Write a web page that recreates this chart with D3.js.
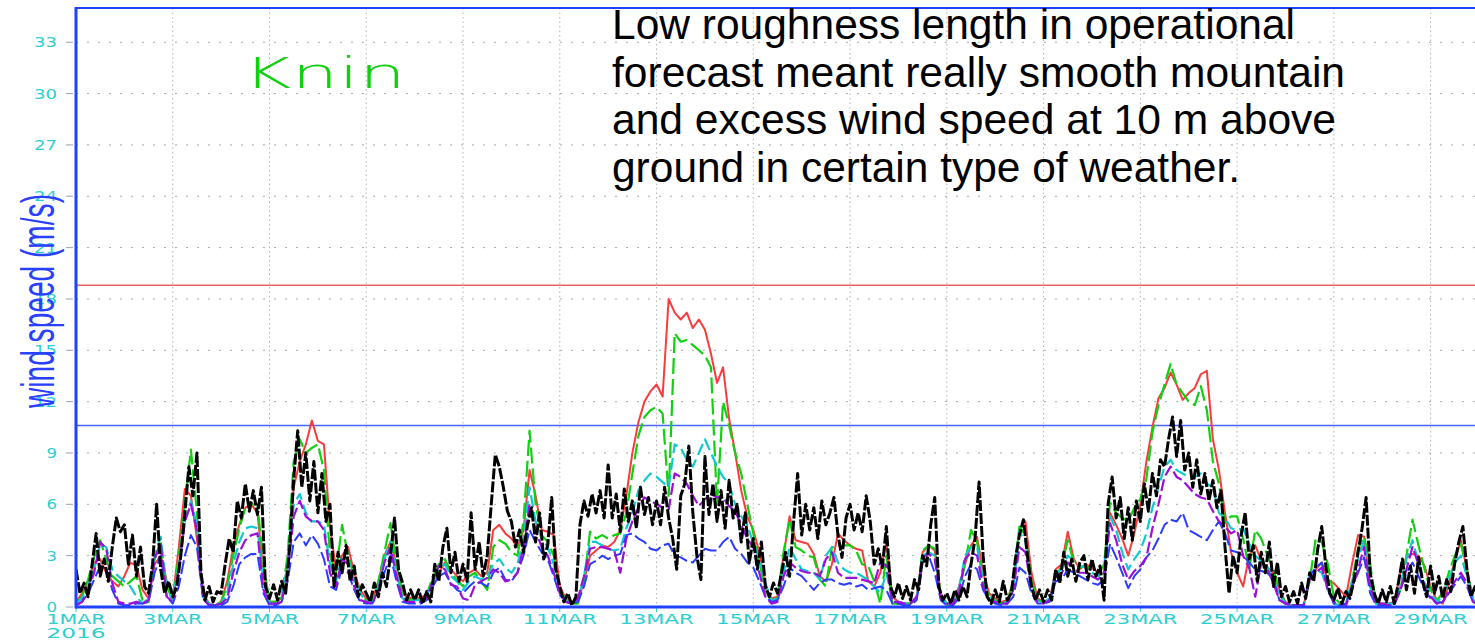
<!DOCTYPE html>
<html>
<head>
<meta charset="utf-8">
<script src="https://cdn.jsdelivr.net/npm/d3@7/dist/d3.min.js"></script>
<style>
  body { margin: 0; background: #fff; overflow: hidden; }
</style>
</head>
<body>
<main></main>
<script>
// model runs, 3-hourly from 1 MAR 2016 00 UTC (8 values a day)
const red = [
  0.3,0.8,1.5,2.6,2.8,2.0,1.5,1.2, 1.8,2.6,2.4,1.0,0.5,2.5,3.0,1.5,
  0.5,3.5,6.9,6.5,4.0,0.8,0.2,0.1, 0.3,1.5,3.5,4.8,5.8,6.0,5.5,2.0,
  0.3,0.3,0.5,2.5,7.0,8.5,9.5,10.9, 9.7,9.5,4.7,2.2,3.0,3.5,2.0,1.0,
  0.5,0.4,1.5,3.0,3.8,2.5,0.8,0.5, 0.6,0.5,0.8,1.5,2.0,2.6,2.2,1.8,
  1.5,2.0,2.2,1.8,2.0,4.5,4.8,4.3, 4.0,3.5,4.5,8.0,6.5,4.5,4.4,4.2,
  1.2,0.5,0.3,0.3,1.5,3.0,3.3,3.6, 3.5,3.8,4.5,6.5,9.0,10.8,12.0,12.6,
  13.0,12.3,18.0,17.2,16.8,17.2,16.3,16.8, 16.2,14.8,13.1,14.0,11.0,9.0,6.8,5.3,
  4.5,3.2,1.2,0.5,0.6,3.0,5.3,3.9, 3.8,3.7,3.1,1.8,1.5,2.5,4.3,3.9,
  3.6,3.4,3.3,1.5,1.2,2.0,3.8,0.6, 0.3,0.2,0.2,0.5,3.2,3.6,3.3,0.8,
  0.2,0.2,1.2,2.5,3.6,4.1,2.0,0.8, 0.5,0.3,0.4,1.5,4.5,5.0,2.0,0.5,
  0.3,0.4,2.2,2.5,4.4,2.8,2.2,2.5, 2.3,2.0,2.4,5.5,4.8,4.0,3.0,4.3,
  6.0,8.5,10.5,12.2,12.8,13.7,13.0,12.1, 12.5,12.8,13.6,13.8,9.8,8.0,5.5,3.2,
  2.0,1.2,3.0,3.6,2.7,2.3,2.0,1.0, 0.3,0.1,0.1,0.1,1.6,2.2,2.6,1.6,
  1.4,1.0,0.6,2.5,4.2,4.1,1.2,0.2, 0.2,0.2,0.3,2.0,2.9,3.1,3.0,2.4,
  1.2,0.4,0.2,1.3,2.7,3.9,2.2,0.4,0.2
];
const green = [
  0.2,0.6,1.6,2.9,3.9,2.8,1.8,1.5, 1.2,1.5,1.8,0.4,0.3,2.8,3.8,1.2,
  0.4,3.0,6.0,9.2,5.5,0.6,0.1,0.1, 0.3,1.2,3.0,4.6,5.8,6.0,6.0,2.5,
  0.3,0.3,0.6,3.0,8.5,9.8,9.0,9.3, 9.5,8.0,3.0,2.0,4.8,3.0,1.8,0.8,
  0.4,0.3,1.5,3.2,4.9,2.5,0.6,0.4, 0.5,0.4,0.7,1.8,2.5,2.8,2.0,1.6,
  1.2,1.8,2.0,1.5,1.0,3.5,3.9,3.7, 3.2,3.0,5.0,10.3,6.0,4.2,3.8,3.0,
  1.0,0.4,0.2,0.2,1.5,4.4,4.0,4.2, 4.0,4.2,4.3,5.5,7.8,10.0,11.1,11.5,
  11.7,11.3,6.5,16.0,15.5,15.6,15.3,15.0, 14.7,14.0,6.0,12.0,10.6,9.0,7.8,6.0,
  4.3,2.6,1.0,0.3,0.5,3.2,5.1,3.5, 3.3,3.0,2.9,1.6,1.2,3.5,3.5,3.6,
  3.6,3.3,2.5,2.4,1.5,0.2,3.0,0.2, 0.2,0.2,0.2,0.5,3.3,3.6,3.4,0.6,
  0.1,0.1,0.8,2.5,4.5,3.8,1.5,0.6, 0.4,0.2,0.3,1.5,4.7,4.2,1.5,0.4,
  0.3,0.4,1.8,2.4,3.9,2.6,2.3,2.4, 2.2,1.9,2.5,6.1,5.5,5.2,5.0,5.8,
  6.3,7.5,10.2,11.8,13.0,14.2,13.0,12.5, 12.0,11.8,12.9,11.5,8.5,7.2,4.9,5.3,
  5.3,4.0,2.2,4.5,4.0,3.0,2.2,1.0, 0.2,0.1,0.1,0.1,1.5,4.0,3.8,2.5,
  0.6,0.2,0.1,1.5,3.4,4.1,2.5,0.2, 0.1,0.1,0.2,1.0,3.0,5.1,3.6,2.2,
  1.0,0.4,0.8,2.0,3.0,3.7,2.2,0.5,0.2
];
const cyan = [
  0.2,0.5,1.2,2.2,3.7,3.5,2.2,1.8, 1.5,1.2,0.6,0.2,0.5,3.0,4.1,1.0,
  0.4,2.5,5.0,6.2,4.8,0.6,0.2,0.1, 0.2,0.8,2.5,3.8,4.6,4.7,4.6,1.5,
  0.2,0.2,0.4,2.5,6.0,6.6,5.5,5.0, 5.0,4.8,2.5,1.5,3.0,2.8,1.5,0.8,
  0.3,0.3,1.2,2.8,3.8,2.0,0.5,0.4, 0.4,0.4,0.6,1.5,2.2,2.5,1.8,1.5,
  1.0,1.5,1.8,1.6,1.8,2.5,2.8,2.3, 2.0,2.5,4.0,7.0,5.0,4.0,3.5,2.5,
  1.0,0.4,0.3,0.3,1.8,3.8,3.8,3.6, 3.4,3.3,3.4,4.6,5.5,6.8,7.4,7.8,
  7.6,7.3,7.0,9.5,9.3,8.6,8.2,9.0, 9.8,9.0,8.2,7.6,7.2,6.0,5.3,4.8,
  3.7,2.8,1.4,0.4,0.5,2.0,3.5,2.8, 2.2,2.1,2.0,1.6,3.0,3.5,2.6,2.2,
  2.0,2.0,1.8,1.6,1.2,0.8,2.0,0.3, 0.3,0.2,0.2,0.5,3.0,3.2,3.0,0.6,
  0.2,0.2,1.0,3.0,3.5,3.5,1.5,0.6, 0.3,0.2,0.3,1.2,4.4,3.8,1.2,0.4,
  0.3,0.5,2.0,2.2,3.0,2.7,2.4,2.3, 2.0,1.8,2.2,5.3,4.5,3.2,2.2,2.8,
  3.3,4.3,5.8,7.0,8.2,8.6,8.0,7.8, 7.6,7.6,7.8,7.2,7.0,5.5,5.2,4.6,
  4.5,4.6,3.7,3.0,2.7,2.4,1.6,0.7, 0.2,0.1,0.1,0.1,1.8,2.2,2.0,1.0,
  0.2,0.1,0.2,1.5,2.8,3.9,1.2,0.2, 0.2,0.2,0.2,1.2,2.8,3.9,2.6,1.4,
  0.8,0.3,0.6,1.6,2.6,3.0,1.8,0.4,0.2
];
const purple = [
  0.1,0.3,1.0,2.0,3.8,3.4,1.4,0.3, 0.2,0.2,0.3,0.2,0.4,2.8,3.7,0.6,
  0.3,2.2,5.0,6.0,4.5,0.5,0.1,0.1, 0.2,0.5,2.0,3.2,3.9,4.2,4.3,1.0,
  0.2,0.2,0.3,2.0,5.3,6.2,5.3,5.0, 5.0,4.5,2.0,1.2,2.8,2.5,1.2,0.4,
  0.3,0.2,1.0,2.6,3.5,1.8,0.4,0.3, 0.3,0.3,0.5,1.5,2.4,2.2,1.3,1.2,
  0.5,0.4,1.3,1.5,1.7,2.2,2.0,1.5, 1.6,2.0,3.5,6.0,4.5,3.5,3.0,2.0,
  0.8,0.3,0.2,0.5,1.8,3.4,3.5,3.5, 3.4,3.3,2.0,4.0,5.0,5.8,6.4,6.2,
  6.0,5.8,5.7,7.8,7.6,7.2,6.5,5.9, 6.3,6.6,6.4,6.4,5.9,5.6,4.8,4.0,
  3.5,2.0,0.6,0.2,0.3,1.8,2.6,2.3, 2.1,2.0,2.0,1.8,2.8,3.2,2.0,1.7,
  1.7,1.7,1.6,1.5,1.4,2.6,2.4,0.3, 0.3,0.2,0.2,0.6,2.9,3.1,2.8,0.5,
  0.2,0.2,0.8,2.8,3.2,3.0,1.2,0.4, 0.3,0.2,0.2,1.0,3.5,3.2,1.0,0.3,
  0.2,0.4,1.8,2.0,2.6,2.3,2.0,2.0, 1.8,1.6,2.0,4.9,3.9,2.5,1.6,2.1,
  2.4,2.9,4.6,6.0,7.6,8.2,7.6,7.4, 7.0,6.6,6.4,6.3,5.6,5.0,4.7,4.3,
  4.5,3.0,2.3,0.6,2.6,2.2,1.4,0.4, 0.2,0.1,0.1,0.1,1.6,2.0,2.3,1.0,
  0.3,0.1,0.1,1.0,2.2,3.5,1.2,0.2, 0.2,0.1,0.2,1.0,2.2,3.5,2.5,1.2,
  0.6,0.2,0.3,0.9,1.5,2.0,1.4,0.3,0.1
];
const blue = [
  0.1,0.3,0.8,1.6,2.4,2.3,1.0,0.2, 0.1,0.1,0.2,0.2,0.3,2.0,3.0,0.6,
  0.2,1.2,3.0,4.2,3.5,0.5,0.1,0.1, 0.1,0.3,1.2,2.5,2.9,3.1,3.1,0.8,
  0.1,0.1,0.3,1.5,3.8,4.3,3.6,4.2, 3.7,2.8,1.2,1.0,2.3,2.0,1.0,0.3,
  0.2,0.2,0.8,2.0,3.0,1.5,0.3,0.2, 0.2,0.2,0.4,1.2,1.8,2.0,1.4,1.0,
  0.8,1.2,1.5,1.4,1.2,2.0,2.3,1.6, 1.5,2.0,3.0,4.5,3.8,3.2,2.8,1.8,
  0.7,0.3,0.2,0.3,1.2,2.5,2.7,3.0, 2.8,3.0,3.1,4.2,4.3,4.0,3.8,3.4,
  3.3,3.6,3.7,3.0,2.9,2.7,2.6,3.0, 3.4,3.3,3.3,3.8,4.1,3.4,3.1,2.6,
  2.3,1.5,0.6,0.3,0.4,1.2,2.3,2.0, 1.8,1.4,1.0,1.4,1.6,1.6,1.4,1.3,
  1.4,1.2,1.3,1.0,1.1,1.2,1.0,0.2, 0.2,0.1,0.1,0.4,2.6,3.0,2.0,0.4,
  0.1,0.1,0.5,1.8,2.5,2.2,1.0,0.4, 0.2,0.1,0.2,0.6,2.3,2.0,0.8,0.2,
  0.2,0.3,1.5,1.6,2.2,2.0,1.8,1.6, 1.4,1.3,1.6,3.7,2.9,2.0,1.1,1.8,
  2.2,2.9,3.3,4.0,4.8,5.1,5.0,5.5, 4.5,4.3,4.1,3.9,4.5,5.0,4.3,3.3,
  3.2,3.0,2.6,2.2,2.1,2.0,1.6,0.4, 0.2,0.1,0.1,0.1,1.8,2.3,2.6,1.0,
  0.2,0.1,0.2,1.2,2.0,2.9,0.8,0.1, 0.1,0.1,0.1,1.0,2.0,2.6,1.8,1.0,
  0.5,0.2,0.3,0.8,1.3,1.8,1.2,0.3,0.1
];
// observed at the station, 2-hourly (12 values a day)
const observed = [
  2.2,0.8,1.4,0.6,2.5,4.3,1.8,2.8,1.5,3.5,5.2,4.4,
  4.8,2.5,4.2,1.8,3.5,1.2,0.8,2.5,6.0,2.2,0.8,1.5,
  0.6,1.2,3.0,5.5,8.2,6.5,9.0,2.0,0.4,1.2,0.3,0.9,
  0.8,2.5,4.0,3.2,6.2,5.2,7.2,5.6,6.8,5.4,7.0,1.2,
  0.5,1.3,0.4,1.5,0.8,3.5,7.5,10.3,7.0,9.0,6.2,8.5,
  5.5,7.8,5.0,6.0,1.2,3.2,2.0,3.6,1.5,2.4,0.6,1.3,
  0.8,0.3,1.4,0.6,2.0,1.2,3.0,5.2,2.2,1.4,0.4,1.0,
  0.4,1.0,0.2,0.9,0.3,2.5,1.5,3.5,4.6,2.0,3.2,1.5,
  2.5,1.5,5.5,2.2,3.8,1.8,3.0,6.0,8.9,8.2,7.0,5.6,
  5.0,3.5,4.5,3.2,4.8,5.8,3.8,5.5,2.8,3.6,6.4,2.2,
  1.2,0.3,0.8,0.1,0.6,4.8,6.2,5.3,6.6,5.5,6.8,5.2,
  8.3,5.2,6.6,4.4,6.9,5.0,6.2,4.6,7.0,5.4,6.4,4.8,
  6.2,4.8,7.0,5.2,4.0,2.2,6.5,7.2,9.4,5.5,3.0,1.6,
  8.8,5.4,7.2,5.0,6.8,4.6,7.4,5.2,6.0,3.8,5.5,2.6,
  4.0,2.2,3.8,1.2,0.6,1.4,0.8,2.0,3.2,1.8,5.0,7.8,
  4.2,6.0,4.5,5.8,4.0,6.2,4.8,5.5,6.4,4.2,2.9,5.2,
  6.0,4.5,5.5,4.4,6.5,5.0,2.5,3.4,2.3,4.7,1.2,0.6,
  1.4,0.5,1.2,0.4,1.6,1.0,3.0,2.4,4.8,6.4,1.2,0.4,
  0.8,0.2,1.0,0.4,1.2,0.6,2.5,4.0,7.3,3.0,0.6,0.2,
  1.0,0.3,1.5,0.4,0.8,2.8,4.2,5.1,3.0,1.2,0.4,1.0,
  0.3,1.0,0.4,2.2,1.4,3.2,1.8,2.8,1.5,2.6,3.0,1.6,
  2.8,1.8,2.4,0.4,6.0,7.6,5.2,6.4,4.0,5.8,3.9,6.2,
  5.0,7.2,5.6,7.8,6.5,8.6,8.2,9.8,11.1,8.8,10.9,8.0,
  9.0,7.0,8.6,6.6,7.8,6.2,7.4,5.8,6.8,3.5,0.8,3.0,
  2.0,4.2,5.5,2.8,3.6,1.5,3.2,2.0,3.8,1.2,2.6,0.6,
  1.2,0.3,0.9,0.2,1.4,0.5,2.0,1.5,3.4,4.7,2.4,0.8,
  0.4,1.1,0.2,0.9,0.5,1.6,3.2,4.6,6.4,2.0,0.8,0.2,
  1.0,0.3,1.2,0.2,1.4,2.8,1.0,2.4,0.8,2.9,1.5,0.6,
  2.4,0.8,1.8,0.5,1.6,0.9,2.6,3.8,4.7,2.2,0.6,1.2,0.5
];

const yTicks = [0, 3, 6, 9, 12, 15, 18, 21, 24, 27, 30, 33];
const dayTicks = [1, 3, 5, 7, 9, 11, 13, 15, 17, 19, 21, 23, 25, 27, 29];
const redLimit = 18.8;
const blueLimit = 10.6;
const station = 'Knin';
const yTitle = 'wind speed (m/s)';
const note = [
  'Low roughness length in operational',
  'forecast meant really smooth mountain',
  'and excess wind speed at 10 m above',
  'ground in certain type of weather.'
];

!function(){
    var w = 1475;
    var h = 641;
    var left = 76, right = 1479, top = 8, bottom = 607;
    var HOUR = 3600 * 1000;
    var t0 = Date.UTC(2016, 2, 1);
    var dayX = d => x(new Date(t0 + (d - 1) * 24 * HOUR));

    var cyanTxt = '#2ccfd0';
    var frame = '#2040ff';

    let svg = d3.select('main').append('svg')
        .attr('width', w)
        .attr('height', h)
        .style('background-color', '#fff')
        .style('display', 'block');

    let x = d3.scaleUtc().domain([new Date(t0), new Date(Date.UTC(2016, 2, 30))]).range([left, right]);
    let y = d3.scaleLinear().domain([0, 35]).range([bottom, top]);

    svg.append('clipPath').attr('id', 'plot')
        .append('rect').attr('x', left).attr('y', top)
        .attr('width', right - left).attr('height', bottom - top);

    // grid
    svg.append('g').selectAll('line').data(yTicks.slice(1)).join('line')
        .attr('x1', left).attr('x2', right)
        .attr('y1', d => y(d)).attr('y2', d => y(d))
        .attr('stroke', '#a8a8a8').attr('stroke-width', 1)
        .attr('stroke-dasharray', '2,9');
    svg.append('g').selectAll('line').data(dayTicks.slice(1)).join('line')
        .attr('x1', dayX).attr('x2', dayX)
        .attr('y1', top).attr('y2', bottom)
        .attr('stroke', '#b4b4b4').attr('stroke-width', 1)
        .attr('stroke-dasharray', '1.5,3');

    // y axis labels and ticks
    let ya = svg.append('g');
    ya.selectAll('line').data(yTicks).join('line')
        .attr('x1', left - 10).attr('x2', left - 3)
        .attr('y1', d => y(d)).attr('y2', d => y(d))
        .attr('stroke', '#9aa0b0').attr('stroke-width', 1);
    ya.selectAll('text').data(yTicks).join('text')
        .attr('x', 57).attr('y', d => y(d) + 5)
        .attr('text-anchor', 'end')
        .attr('textLength', d => String(d).length * 12.5 - 2)
        .attr('lengthAdjust', 'spacingAndGlyphs')
        .style('font', '14px "DejaVu Sans"')
        .attr('fill', cyanTxt)
        .text(d => d);

    // x axis labels and ticks
    let xa = svg.append('g');
    xa.selectAll('line').data(dayTicks).join('line')
        .attr('x1', dayX).attr('x2', dayX)
        .attr('y1', bottom).attr('y2', bottom + 5)
        .attr('stroke', cyanTxt).attr('stroke-width', 1);
    xa.selectAll('text').data(dayTicks).join('text')
        .attr('x', dayX)
        .attr('y', 624)
        .attr('text-anchor', 'middle')
        .attr('textLength', d => (String(d).length + 3) * 14.8)
        .attr('lengthAdjust', 'spacingAndGlyphs')
        .style('font', '14px "DejaVu Sans"')
        .attr('fill', cyanTxt)
        .text(d => d + 'MAR');
    xa.append('text')
        .attr('x', left).attr('y', 637.5)
        .attr('text-anchor', 'middle')
        .attr('textLength', 59).attr('lengthAdjust', 'spacingAndGlyphs')
        .style('font', '14px "DejaVu Sans"')
        .attr('fill', cyanTxt)
        .text('2016');

    // thresholds
    svg.append('line')
        .attr('x1', left).attr('x2', right)
        .attr('y1', y(redLimit)).attr('y2', y(redLimit))
        .attr('stroke', '#f06060').attr('stroke-width', 1.5);
    svg.append('line')
        .attr('x1', left).attr('x2', right)
        .attr('y1', y(blueLimit)).attr('y2', y(blueLimit))
        .attr('stroke', '#4a64ff').attr('stroke-width', 1.5);

    // series
    const series = [
        { v: red,      step: 3, color: '#f83c3c', dash: null,    wd: 2 },
        { v: green,    step: 3, color: '#10d010', dash: '16,5',  wd: 2.2 },
        { v: cyan,     step: 3, color: '#10c8d0', dash: '12,5',  wd: 2.2 },
        { v: blue,     step: 3, color: '#2a3cff', dash: '14,4',  wd: 2 },
        { v: purple,   step: 3, color: '#9a10d8', dash: '12,4',  wd: 2.2 },
        { v: observed, step: 2, color: '#000000', dash: '11,2',  wd: 3 }
    ];

    let g = svg.append('g').attr('clip-path', 'url(#plot)');
    series.forEach(s => {
        let line = d3.line()
            .x((d, i) => x(new Date(t0 + i * s.step * HOUR)))
            .y(d => y(d));
        g.append('path')
            .datum(s.v)
            .attr('d', line)
            .attr('fill', 'none')
            .attr('stroke', s.color)
            .attr('stroke-width', s.wd)
            .attr('stroke-linejoin', 'round')
            .attr('stroke-dasharray', s.dash);
    });

    // frame
    svg.append('line').attr('x1', left).attr('x2', right).attr('y1', top).attr('y2', top)
        .attr('stroke', frame).attr('stroke-width', 2);
    svg.append('line').attr('x1', left).attr('x2', right).attr('y1', bottom).attr('y2', bottom)
        .attr('stroke', frame).attr('stroke-width', 3);
    svg.append('line').attr('x1', left).attr('x2', left).attr('y1', top - 1).attr('y2', bottom + 1.5)
        .attr('stroke', frame).attr('stroke-width', 3);

    // titles
    svg.append('text')
        .attr('transform', 'translate(54,' + 301 + ') rotate(-90)')
        .attr('text-anchor', 'middle')
        .attr('textLength', 214).attr('lengthAdjust', 'spacingAndGlyphs')
        .style('font', '46px "Liberation Sans"')
        .attr('fill', '#2a40ff')
        .text(yTitle);

    svg.append('text')
        .attr('x', 243).attr('y', 88)
        .attr('textLength', 163).attr('lengthAdjust', 'spacingAndGlyphs')
        .style('font', '200 42px "DejaVu Sans"')
        .attr('fill', '#10d010')
        .text(station);

    const widths = [683, 733, 724, 628];
    svg.append('g').selectAll('text').data(note).join('text')
        .attr('x', 612)
        .attr('y', (d, i) => 39 + i * 47.5)
        .attr('textLength', (d, i) => widths[i])
        .attr('lengthAdjust', 'spacingAndGlyphs')
        .style('font', '42px "Liberation Sans"')
        .attr('fill', '#000')
        .text(d => d);
}();
</script>
</body>
</html>
